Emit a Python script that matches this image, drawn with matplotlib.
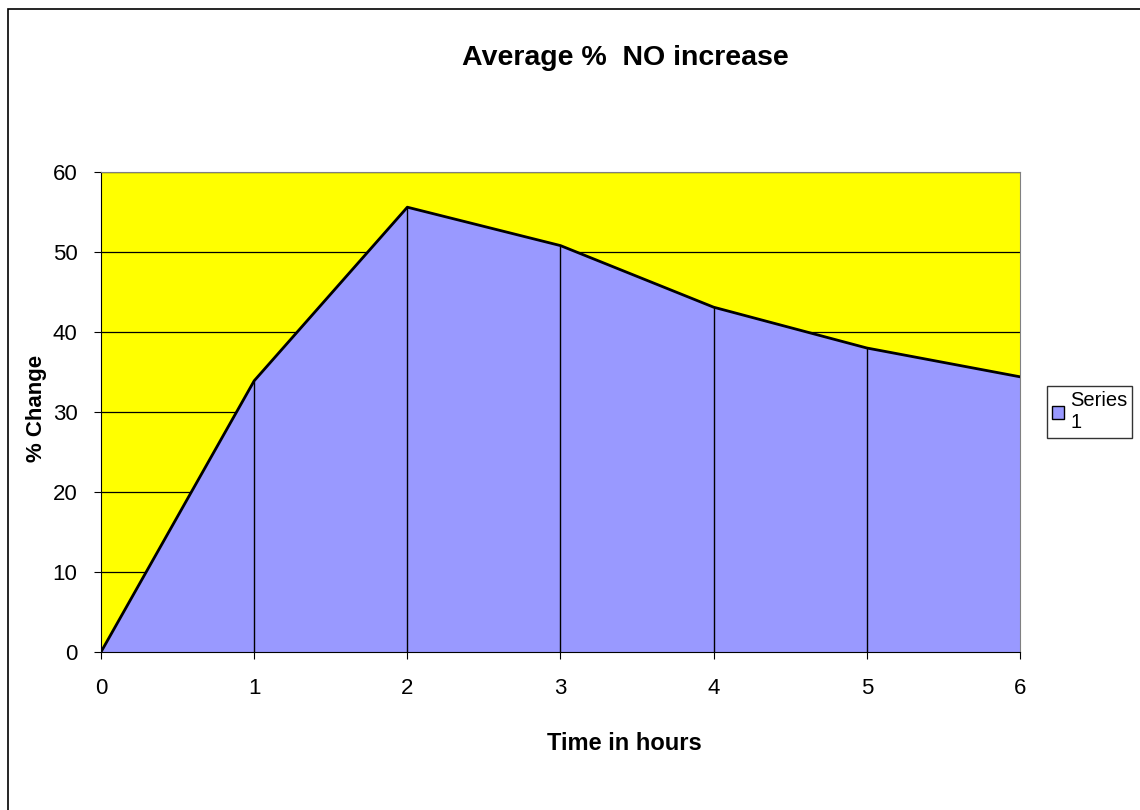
import numpy as np
import matplotlib.pyplot as plt
from matplotlib.patches import Rectangle, Patch

hours = [0, 1, 2, 3, 4, 5, 6]
pct_change = [0, 33.9, 55.6, 50.8, 43.1, 38.0, 34.4]
y_ticks = [0, 10, 20, 30, 40, 50, 60]

plt.rcParams['font.family'] = ['Liberation Sans', 'DejaVu Sans']

fig = plt.figure(figsize=(11.4, 8.1), dpi=100)
# outer chart border
fig.patches.append(Rectangle((8/1140, -0.01), 1.1, 1 - 9/810 + 0.01, transform=fig.transFigure,
                             fill=False, edgecolor='black', linewidth=1.2))

ax = fig.add_axes([101/1140, 1 - 652/810, (1020-101)/1140, (652-172)/810])
ax.set_facecolor('#FFFF00')
ax.fill_between(hours, pct_change, 0, color='#9999FF', zorder=2)
ax.plot(hours, pct_change, color='black', linewidth=2, zorder=4)
ax.vlines(hours[1:-1], 0, pct_change[1:-1], color='black', linewidth=1, zorder=3)
for y in y_ticks[1:]:
    ax.axhline(y, color='black', linewidth=0.9, zorder=1)

ax.set_xlim(0, 6)
ax.set_ylim(0, 60)
ax.set_xticks(hours)
ax.set_yticks(y_ticks)
ax.tick_params(labelsize=16, length=5, direction='out', color='black')
ax.tick_params(axis='x', pad=14)
ax.tick_params(axis='y', pad=12)
for side in ['top', 'right']:
    ax.spines[side].set_color('#808080')
for side in ['left', 'bottom']:
    ax.spines[side].set_color('black')

fig.text(37/1140, 1 - 408/810, '% Change', fontsize=16, fontweight='bold',
         rotation=90, ha='center', va='center')
fig.text(624/1140, 1 - 743/810, 'Time in hours', fontsize=17, fontweight='bold',
         ha='center', va='center')
fig.text(625/1140, 1 - 58/810, 'Average %  NO increase', fontsize=20.5, fontweight='bold',
         ha='center', va='center')

leg = fig.legend(handles=[Patch(facecolor='#9999FF', edgecolor='black', label='Series\n1')],
                 loc='center left', bbox_to_anchor=(1047/1140, 1 - 412/810), fontsize=14.5,
                 frameon=True, fancybox=False, edgecolor='black', handlelength=0.6,
                 handleheight=0.6, handletextpad=0.3, borderpad=0.25, borderaxespad=0)
leg.get_frame().set_linewidth(1)

fig.savefig('out.png', dpi=100)
